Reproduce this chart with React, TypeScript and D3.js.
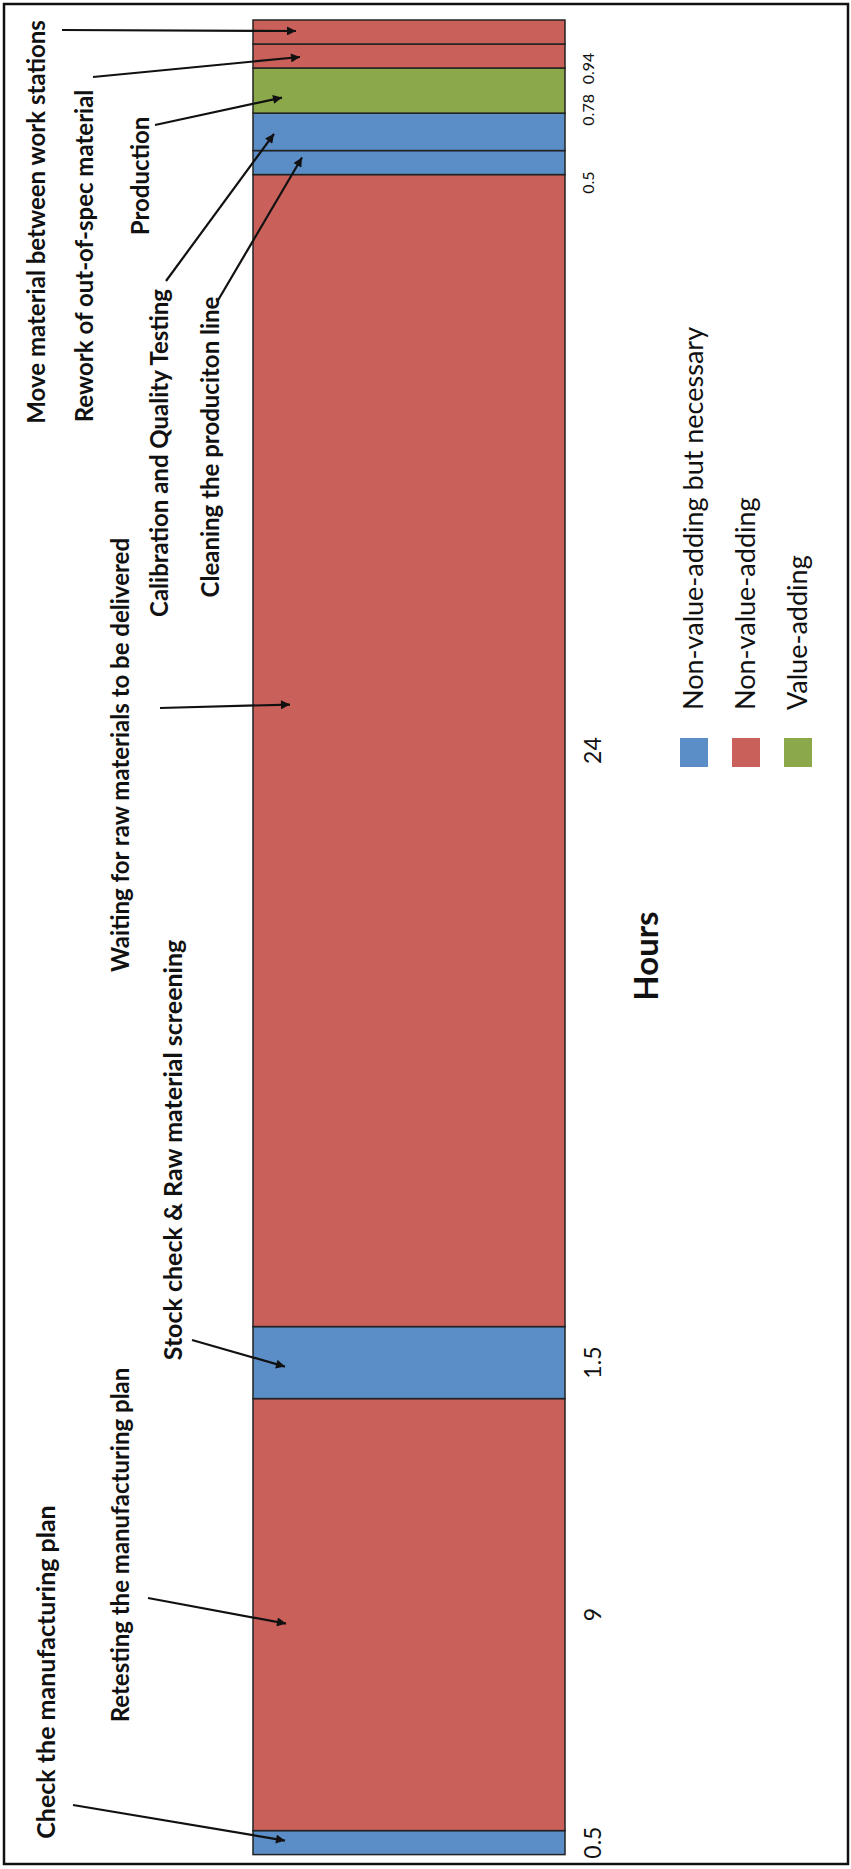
import React from "react";
import * as d3 from "d3";

// ---- data (bottom of the bar to the top) ----
const categories = [
  "Check the manufacturing plan",
  "Retesting the manufacturing plan",
  "Stock check & Raw material screening",
  "Waiting for raw materials to be delivered",
  "Cleaning the produciton line",
  "Calibration and Quality Testing",
  "Production",
  "Rework of out-of-spec material",
  "Move material between work stations",
];
const hours = [0.5, 9, 1.5, 24, 0.5, 0.78, 0.94, 0.5, 0.5];
const activityType = ["nvn", "nv", "nvn", "nv", "nvn", "nvn", "va", "nv", "nv"];
const valueLabels = ["0.5", "9", "1.5", "24", "0.5", "0.78", "0.94", "", ""];
const legendKeys = ["nvn", "nv", "va"];
const legendLabels = ["Non-value-adding but necessary", "Non-value-adding", "Value-adding"];
const axisTitle = "Hours";

const COLORS: Record<string, string> = { nvn: "#5b8ec7", nv: "#c9605a", va: "#8ba94a" };

// annotation layout: text centre (x, y), arrow start, arrow tip
const annot = [
  { tx: 46, ty: 1672, ax: 73, ay: 1805, tipX: 285, tipDy: -2, fs: 25 },
  { tx: 121, ty: 1545, ax: 148, ay: 1598, tipX: 286, tipDy: 9, fs: 24 },
  { tx: 173, ty: 1150, ax: 192, ay: 1340, tipX: 285, tipDy: 4, fs: 25 },
  { tx: 121, ty: 755, ax: 160, ay: 708, tipX: 290, tipDy: -46, fs: 24 },
  { tx: 211, ty: 447, ax: 217, ay: 302, tipX: 302, tipDy: -5, fs: 24 },
  { tx: 160, ty: 453, ax: 166, ay: 281, tipX: 274, tipDy: 2, fs: 24 },
  { tx: 141, ty: 176, ax: 155, ay: 125, tipX: 282, tipDy: 7, fs: 24 },
  { tx: 85, ty: 256, ax: 93, ay: 77, tipX: 300, tipDy: 1, fs: 24 },
  { tx: 37, ty: 222, ax: 62, ay: 30, tipX: 296, tipDy: -1, fs: 24 },
];
const labelTweak: Record<number, { dy: number; size: number; x: number }> = {
  4: { dy: 20, size: 16, x: 588 },
  5: { dy: -22, size: 16, x: 588 },
  6: { dy: -22, size: 16, x: 588 },
};

export default function App() {
  const W = 851, H = 1869;
  const barX0 = 253, barX1 = 565;
  const total = d3.sum(hours);
  const y = d3.scaleLinear().domain([0, total]).range([1854.6, 20]);
  const cum = d3.cumsum(hours);
  const segs = hours.map((h, i) => ({
    i,
    y0: cum[i] - h,
    y1: cum[i],
    type: activityType[i],
    label: valueLabels[i],
    name: categories[i],
  }));
  const font = "Lato, 'Open Sans', sans-serif";

  return (
    <svg width={W} height={H} style={{ display: "block", position: "absolute", left: 0, top: 0, background: "#fff" }}>
      <defs>
        <marker id="ah" viewBox="0 0 10 10" refX="10" refY="5" markerWidth="11" markerHeight="9" markerUnits="userSpaceOnUse" orient="auto">
          <path d="M0,0 L10,5 L0,10 z" fill="#111" />
        </marker>
      </defs>
      <rect x={0} y={0} width={W} height={H} fill="#fff" />
      <rect x={4} y={4} width={844} height={1860} fill="none" stroke="#111" strokeWidth={2.5} />

      {/* stacked bar */}
      {segs.map((s) => (
        <rect
          key={"seg" + s.i}
          x={barX0}
          y={y(s.y1)}
          width={barX1 - barX0}
          height={y(s.y0) - y(s.y1)}
          fill={COLORS[s.type]}
          stroke="#222"
          strokeWidth={1.5}
        />
      ))}

      {/* value labels */}
      {segs.map((s) => {
        if (!s.label) return null;
        const t = labelTweak[s.i];
        const cy = (y(s.y0) + y(s.y1)) / 2 + (t ? t.dy : 0);
        const cx = t ? t.x : 593;
        const size = t ? t.size : 23;
        return (
          <text
            key={"lab" + s.i}
            transform={`translate(${cx},${cy}) rotate(-90)`}
            textAnchor="middle"
            dy="0.35em"
            fontFamily={font}
            fontSize={size}
            fill="#111"
          >
            {s.label}
          </text>
        );
      })}

      {/* axis title */}
      <text
        transform={`translate(646,956) rotate(-90)`}
        textAnchor="middle"
        dy="0.35em"
        fontFamily={font}
        fontWeight="bold"
        fontSize={33}
        fill="#111"
      >
        {axisTitle}
      </text>

      {/* legend */}
      {legendKeys.map((k, i) => {
        const cx = 694 + i * 52;
        return (
          <g key={"lg" + k}>
            <rect x={cx - 14} y={738} width={28} height={29} fill={COLORS[k]} />
            <text
              transform={`translate(${cx},710) rotate(-90)`}
              textAnchor="start"
              dy="0.35em"
              fontFamily={font}
              fontSize={27}
              fill="#111"
            >
              {legendLabels[i]}
            </text>
          </g>
        );
      })}

      {/* annotations */}
      {segs.map((s) => {
        const a = annot[s.i];
        const tipY = (y(s.y0) + y(s.y1)) / 2 + a.tipDy;
        return (
          <g key={"an" + s.i}>
            <text
              transform={`translate(${a.tx},${a.ty}) rotate(-90)`}
              textAnchor="middle"
              dy="0.35em"
              fontFamily={font}
              fontWeight="bold"
              fontSize={a.fs}
              fill="#111"
            >
              {s.name}
            </text>
            <line x1={a.ax} y1={a.ay} x2={a.tipX} y2={tipY} stroke="#111" strokeWidth={2.2} markerEnd="url(#ah)" />
          </g>
        );
      })}
    </svg>
  );
}
